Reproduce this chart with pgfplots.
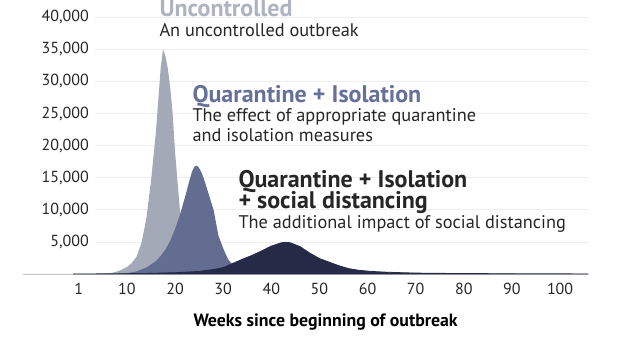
\documentclass[border=0pt]{standalone}
\usepackage{fontspec}
\setmainfont{PT Sans}
\usepackage{pgfplots}
\pgfplotsset{compat=1.18}
\definecolor{cUnc}{HTML}{A4A9B8}
\definecolor{cUncT}{HTML}{AEB3C2}
\definecolor{cQI}{HTML}{636D91}
\definecolor{cQIT}{HTML}{667099}
\definecolor{cSD}{HTML}{252B47}
\definecolor{cTxt}{HTML}{262626}
\definecolor{cGrid}{HTML}{EEEEEE}
\definecolor{cAx}{HTML}{C8C8CC}
\begin{document}
\begin{tikzpicture}
\path[use as bounding box] (0,0) rectangle (620bp,349bp);
\begin{axis}[
  at={(23bp,75bp)}, anchor=south west,
  scale only axis, width=565bp, height=256.7bp,
  xmin=-11.6, xmax=105.8, ymin=0, ymax=40000,
  axis x line*=bottom, axis y line*=left,
  y axis line style={draw=none},
  x axis line style={draw=cAx, line width=1pt},
  major tick length=0pt,
  xtick={0,10,20,30,40,50,60,70,80,90,100},
  xticklabels={1,10,20,30,40,50,60,70,80,90,100},
  ytick={5000,10000,15000,20000,25000,30000,35000,40000},
  scaled y ticks=false,
  /pgf/number format/assume math mode=true,
  /pgf/number format/1000 sep={,},
  ticklabel style={font=\fontsize{16bp}{19bp}\selectfont, text=cTxt},
  xticklabel style={anchor=base, yshift=-20.5bp},
  yticklabel style={anchor=east, inner sep=0pt, xshift=66bp},
  clip=false,
]
\pgfplotsinvokeforeach{5000,10000,15000,20000,25000,30000,35000,40000}{
  \draw[cGrid, line width=0.8pt] (axis cs:3.35,#1) -- (axis cs:105.8,#1);
}
% Uncontrolled
\addplot[fill=cUnc, draw=none] coordinates {
(-11.6,0) (5,0) (6,100) (7,200) (8,400) (9,700) (10,1100) (11,1700) (12,2700)
(13,4800) (14,8500) (15,14500) (16,22000) (16.5,27000) (17,32000) (17.5,35000)
(18,34000) (18.5,32000) (19,29000) (19.5,25000) (20,19000) (20.5,14500)
(21,10000) (22,5500) (23,2800) (24,1400) (25,700) (27,250) (30,50) (35,0)
} \closedcycle;
% Quarantine + Isolation
\addplot[fill=cQI, draw=none] coordinates {
(8,0) (10,100) (12,400) (13,700) (14,1000) (15,1500) (16,2000) (17,2800)
(18,3800) (19,5200) (20,7000) (21,9200) (22,11800) (23,14600) (23.5,15900) (24,16700)
(24.5,16900) (25,16500) (25.5,15800) (26,14800) (27,12400) (28,10000) (29,6000) (30,4000)
(31,2300) (32,1400) (33,800) (34,400) (36,150) (40,0)
} \closedcycle;
% Quarantine + Isolation + social distancing
\addplot[fill=cSD, draw=cSD, line width=0.8pt] coordinates {
(-1.2,0) (5,20) (10,50) (15,100) (20,200) (25,400) (28,700) (30,1000)
(32,1650) (34,2300) (36,2900) (38,3600) (40,4350) (42,4850) (43,4950)
(44,4850) (46,4250) (48,3250) (50,2400) (52,1850) (54,1300) (56,850)
(58,600) (60,450) (62,350) (64,280) (68,180) (72,120) (80,70) (90,40)
(100,20) (105.8,10)
} \closedcycle;
\end{axis}
% annotations (y from top: 349 - y)
\node[anchor=base west, inner sep=0pt, text=cUncT, font=\fontsize{24bp}{28bp}\selectfont\bfseries] at (159.3bp,332.3bp) {Uncontrolled};
\node[anchor=base west, inner sep=0pt, text=cTxt, font=\fontsize{18.3bp}{22bp}\selectfont] at (159.3bp,312.3bp) {An uncontrolled outbreak};
\node[anchor=base west, inner sep=0pt, text=cQIT, font=\fontsize{24bp}{28bp}\selectfont\bfseries] at (192.3bp,246.3bp) {Quarantine + Isolation};
\node[anchor=base west, inner sep=0pt, text=cTxt, font=\fontsize{18.3bp}{22bp}\selectfont] at (192.3bp,227.3bp) {The effect of appropriate quarantine};
\node[anchor=base west, inner sep=0pt, text=cTxt, font=\fontsize{18.3bp}{22bp}\selectfont] at (192.3bp,207.3bp) {and isolation measures};
\node[anchor=base west, inner sep=0pt, text=cTxt, font=\fontsize{24bp}{28bp}\selectfont\bfseries] at (238.3bp,161.7bp) {Quarantine + Isolation};
\node[anchor=base west, inner sep=0pt, text=cTxt, font=\fontsize{24bp}{28bp}\selectfont\bfseries] at (238.3bp,140.7bp) {+ social distancing};
\node[anchor=base west, inner sep=0pt, text=cTxt, font=\fontsize{18.3bp}{22bp}\selectfont] at (238.3bp,120.7bp) {The additional impact of social distancing};
\node[anchor=base west, inner sep=0pt, text=black, font=\fontsize{17.8bp}{21bp}\selectfont\bfseries] at (193.3bp,23bp) {Weeks since beginning of outbreak};
\end{tikzpicture}
\end{document}
